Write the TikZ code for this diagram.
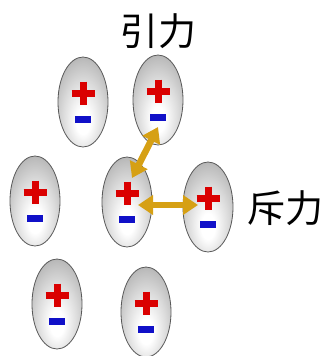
\documentclass[tikz,border=0pt]{standalone}
\usepackage{fontspec}
\newfontfamily\cjk{Noto Sans CJK JP}
\usetikzlibrary{shapes.geometric, arrows.meta, calc}
\definecolor{pluscol}{RGB}{218,0,0}
\definecolor{minuscol}{RGB}{16,16,200}
\definecolor{forcecol}{RGB}{214,160,20}
\pgfdeclareradialshading{capsule}{\pgfpoint{0bp}{-12bp}}{color(0bp)=(white); color(7bp)=(white); color(20bp)=(gray!28); color(30bp)=(gray!52); color(37bp)=(gray!75); color(45bp)=(gray!88); color(70bp)=(gray!90)}
\tikzstyle{molecule}=[ellipse, minimum width=50pt, minimum height=90pt, inner sep=0pt, draw=gray!70!black, line width=0.8pt, shading=capsule]
\tikzstyle{pluscharge}=[pluscol, line width=7pt]
\tikzstyle{minuscharge}=[minuscol, line width=7pt]
\tikzstyle{force}=[forcecol, line width=6.5pt, {Triangle[length=15pt,width=19pt]}-{Triangle[length=15pt,width=19pt]}]
\tikzstyle{label}=[font=\cjk\fontsize{38}{40}\selectfont, inner sep=0pt]

\begin{document}
\begin{tikzpicture}[x=1pt, y=-1pt]
    \useasboundingbox (0,0) rectangle (325,356);
% Molecules
    \foreach \i/\x/\y in {1/83/102, 2/158/100, 3/35/201, 4/127/202, 5/208/207, 6/57/304, 7/146/312} {
        \node[molecule, shade] (m\i) at (\x,\y) {};
        \draw[pluscharge] (m\i.center) ++(-11.5,-9) -- ++(23,0);
        \draw[pluscharge] (m\i.center) ++(0,-20.5) -- ++(0,23);
        \draw[minuscharge] (m\i.center) ++(-8,17) -- ++(16,0);
    }
% Forces
    \coordinate (a1) at ($(m4.center)+(5,-24)$);
    \coordinate (a2) at ($(m2.center)+(0,27)$);
    \coordinate (r1) at ($(m4.center)+(11,3)$);
    \coordinate (r2) at ($(m5.center)+(-10,-2)$);
    \draw[force] (a1) -- (a2);
    \draw[force] (r1) -- (r2);
% Labels
    \node[label] (attract) at (158,31) {引力};
    \node[label] (repel) at (285,208) {斥力};
\end{tikzpicture}
\end{document}
